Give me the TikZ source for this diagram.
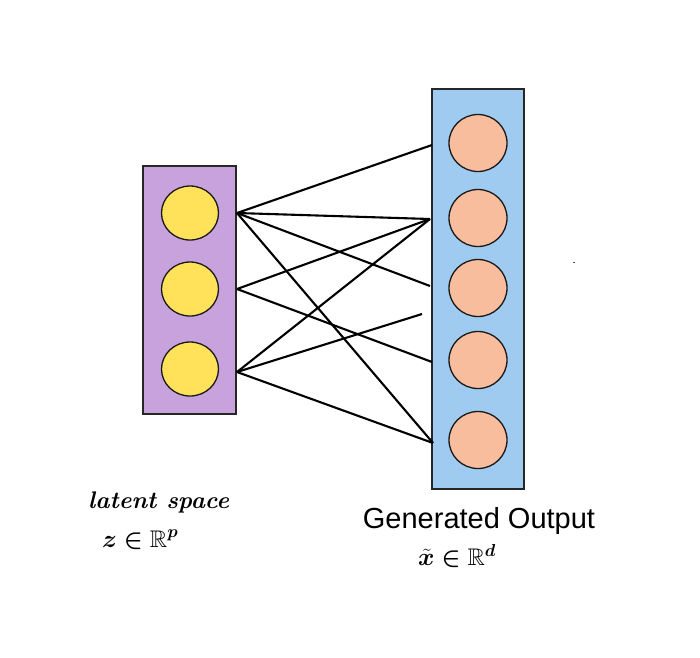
\documentclass[tikz,border=0pt]{standalone}
\usepackage{fontspec}
\usepackage{amssymb}
\usepackage{bm}
\newfontfamily\arialfont{Liberation Sans}
\definecolor{purplebox}{HTML}{C8A2DC}
\definecolor{bluebox}{HTML}{9ECBEF}
\definecolor{yellowc}{HTML}{FFE15A}
\definecolor{salmonc}{HTML}{F8BD9C}
\tikzset{
  layerbox/.style={draw=black!85, line width=1.5pt},
  inneur/.style={ellipse, draw=black!90, line width=1.3pt, fill=yellowc, minimum width=57pt, minimum height=54pt, inner sep=0pt},
  outneur/.style={ellipse, draw=black!90, line width=1.3pt, fill=salmonc, minimum width=58pt, minimum height=57pt, inner sep=0pt},
  conn/.style={line width=2.1pt, black},
  handtext/.style={font=\bfseries\itshape\fontsize{24}{24}\selectfont, anchor=west, inner sep=0pt}
}
\usetikzlibrary{shapes.geometric}
\begin{document}
\begin{tikzpicture}[x=1pt,y=-1pt]
\useasboundingbox (0,0) rectangle (700,657);
\fill[white] (0,0) rectangle (700,657);
% boxes
\draw[layerbox, fill=purplebox] (143,166) rectangle (236,414);
\draw[layerbox, fill=bluebox] (432,89) rectangle (524,489);
% neurons
\node[inneur] (z1) at (190,213) {};
\node[inneur] (z2) at (190,289) {};
\node[inneur] (z3) at (190,369) {};
\node[outneur] (x1) at (478,143) {};
\node[outneur] (x2) at (478,218) {};
\node[outneur] (x3) at (478,288) {};
\node[outneur] (x4) at (478,360) {};
\node[outneur] (x5) at (478,440) {};
% connector endpoints
\coordinate (a1) at (237,213);
\coordinate (a2) at (237,289);
\coordinate (a3) at (237,372);
\coordinate (b1) at (432,145);
\coordinate (b2) at (430,219);
\coordinate (b3) at (430,286);
\coordinate (b4) at (422,314);
\coordinate (b5) at (432,362);
\coordinate (b6) at (433,443);
\draw[conn] (a1) -- (b1);
\draw[conn] (a1) -- (b2);
\draw[conn] (a1) -- (b3);
\draw[conn] (a1) -- (b6);
\draw[conn] (a2) -- (b2);
\draw[conn] (a2) -- (b5);
\draw[conn] (a3) -- (b2);
\draw[conn] (a3) -- (b4);
\draw[conn] (a3) -- (b6);
% stray dot
\fill[black!70] (572.5,261.5) rectangle (574.5,263);
% labels
\node[handtext] (lat) at (88,502) {latent space};
\node[handtext] (zlab) at (102,540) {$\bm{z \in \mathbb{R}^{p}}$};
\node[font=\arialfont\fontsize{29}{29}\selectfont, inner sep=0pt] (gen) at (479,521) {Generated Output};
\node[handtext] (xlab) at (418,556) {$\bm{\tilde{x} \in \mathbb{R}^{d}}$};
\end{tikzpicture}
\end{document}
